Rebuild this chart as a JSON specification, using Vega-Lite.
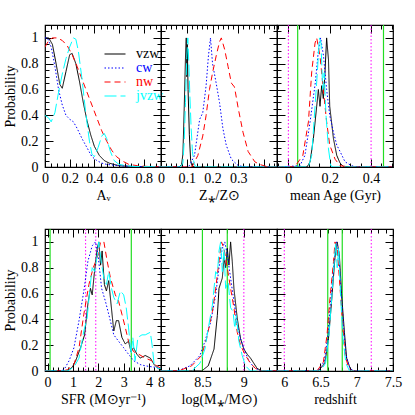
{
"$schema": "https://vega.github.io/schema/vega-lite/v6.json",
"background": "white",
"padding": {"left": 2, "top": 23, "right": 5, "bottom": 5},
"datasets": {
"vlines": [
{"p":3,"t":"g","x":0.045},{"p":3,"t":"g","x":0.46},{"p":3,"t":"m","x":0},{"p":3,"t":"m","x":0.4},
{"p":4,"t":"g","x":0.1},{"p":4,"t":"g","x":3.3},{"p":4,"t":"m","x":1.5},{"p":4,"t":"m","x":1.9},
{"p":5,"t":"g","x":8.5},{"p":5,"t":"g","x":8.8},{"p":5,"t":"m","x":9.0},
{"p":6,"t":"g","x":6.6},{"p":6,"t":"g","x":6.8},{"p":6,"t":"m","x":6.0},{"p":6,"t":"m","x":7.2}
],
"curves": [
{"p":1,"s":"vzw","x":0,"y":1},{"p":1,"s":"vzw","x":0.03,"y":1},{"p":1,"s":"vzw","x":0.06,"y":0.95},{"p":1,"s":"vzw","x":0.09,"y":0.8},{"p":1,"s":"vzw","x":0.12,"y":0.64},{"p":1,"s":"vzw","x":0.14,"y":0.61},{"p":1,"s":"vzw","x":0.17,"y":0.74},{"p":1,"s":"vzw","x":0.2,"y":0.87},{"p":1,"s":"vzw","x":0.22,"y":0.88},{"p":1,"s":"vzw","x":0.25,"y":0.8},{"p":1,"s":"vzw","x":0.28,"y":0.66},{"p":1,"s":"vzw","x":0.31,"y":0.5},{"p":1,"s":"vzw","x":0.34,"y":0.36},{"p":1,"s":"vzw","x":0.37,"y":0.25},{"p":1,"s":"vzw","x":0.4,"y":0.16},{"p":1,"s":"vzw","x":0.44,"y":0.09},{"p":1,"s":"vzw","x":0.48,"y":0.05},{"p":1,"s":"vzw","x":0.52,"y":0.03},{"p":1,"s":"vzw","x":0.6,"y":0.01},{"p":1,"s":"vzw","x":0.7,"y":0.004},{"p":1,"s":"vzw","x":0.94,"y":0},
{"p":1,"s":"cw","x":0,"y":1},{"p":1,"s":"cw","x":0.02,"y":1},{"p":1,"s":"cw","x":0.05,"y":0.93},{"p":1,"s":"cw","x":0.08,"y":0.78},{"p":1,"s":"cw","x":0.11,"y":0.6},{"p":1,"s":"cw","x":0.14,"y":0.48},{"p":1,"s":"cw","x":0.17,"y":0.4},{"p":1,"s":"cw","x":0.2,"y":0.37},{"p":1,"s":"cw","x":0.23,"y":0.35},{"p":1,"s":"cw","x":0.26,"y":0.3},{"p":1,"s":"cw","x":0.3,"y":0.22},{"p":1,"s":"cw","x":0.34,"y":0.15},{"p":1,"s":"cw","x":0.38,"y":0.08},{"p":1,"s":"cw","x":0.42,"y":0.05},{"p":1,"s":"cw","x":0.46,"y":0.03},{"p":1,"s":"cw","x":0.5,"y":0.02},{"p":1,"s":"cw","x":0.6,"y":0.01},{"p":1,"s":"cw","x":0.7,"y":0.005},{"p":1,"s":"cw","x":0.94,"y":0},
{"p":1,"s":"nw","x":0,"y":0.93},{"p":1,"s":"nw","x":0.03,"y":0.98},{"p":1,"s":"nw","x":0.06,"y":1},{"p":1,"s":"nw","x":0.1,"y":1},{"p":1,"s":"nw","x":0.14,"y":0.98},{"p":1,"s":"nw","x":0.18,"y":0.94},{"p":1,"s":"nw","x":0.22,"y":0.87},{"p":1,"s":"nw","x":0.26,"y":0.78},{"p":1,"s":"nw","x":0.3,"y":0.68},{"p":1,"s":"nw","x":0.34,"y":0.58},{"p":1,"s":"nw","x":0.38,"y":0.48},{"p":1,"s":"nw","x":0.42,"y":0.38},{"p":1,"s":"nw","x":0.46,"y":0.28},{"p":1,"s":"nw","x":0.5,"y":0.2},{"p":1,"s":"nw","x":0.54,"y":0.13},{"p":1,"s":"nw","x":0.58,"y":0.08},{"p":1,"s":"nw","x":0.62,"y":0.05},{"p":1,"s":"nw","x":0.68,"y":0.02},{"p":1,"s":"nw","x":0.75,"y":0.01},{"p":1,"s":"nw","x":0.85,"y":0.003},{"p":1,"s":"nw","x":0.94,"y":0},
{"p":1,"s":"jvzw","x":0,"y":0.4},{"p":1,"s":"jvzw","x":0.03,"y":0.38},{"p":1,"s":"jvzw","x":0.05,"y":0.35},{"p":1,"s":"jvzw","x":0.08,"y":0.42},{"p":1,"s":"jvzw","x":0.11,"y":0.58},{"p":1,"s":"jvzw","x":0.14,"y":0.72},{"p":1,"s":"jvzw","x":0.17,"y":0.84},{"p":1,"s":"jvzw","x":0.2,"y":0.93},{"p":1,"s":"jvzw","x":0.23,"y":1},{"p":1,"s":"jvzw","x":0.25,"y":0.99},{"p":1,"s":"jvzw","x":0.27,"y":0.9},{"p":1,"s":"jvzw","x":0.3,"y":0.68},{"p":1,"s":"jvzw","x":0.33,"y":0.42},{"p":1,"s":"jvzw","x":0.36,"y":0.2},{"p":1,"s":"jvzw","x":0.38,"y":0.1},{"p":1,"s":"jvzw","x":0.4,"y":0.08},{"p":1,"s":"jvzw","x":0.43,"y":0.15},{"p":1,"s":"jvzw","x":0.46,"y":0.24},{"p":1,"s":"jvzw","x":0.48,"y":0.26},{"p":1,"s":"jvzw","x":0.5,"y":0.22},{"p":1,"s":"jvzw","x":0.53,"y":0.12},{"p":1,"s":"jvzw","x":0.56,"y":0.05},{"p":1,"s":"jvzw","x":0.6,"y":0.02},{"p":1,"s":"jvzw","x":0.7,"y":0.005},{"p":1,"s":"jvzw","x":0.94,"y":0},
{"p":2,"s":"vzw","x":0,"y":0},{"p":2,"s":"vzw","x":0.07,"y":0},{"p":2,"s":"vzw","x":0.08,"y":0.02},{"p":2,"s":"vzw","x":0.085,"y":0.1},{"p":2,"s":"vzw","x":0.09,"y":0.45},{"p":2,"s":"vzw","x":0.095,"y":0.85},{"p":2,"s":"vzw","x":0.098,"y":1},{"p":2,"s":"vzw","x":0.1,"y":0.7},{"p":2,"s":"vzw","x":0.102,"y":0.95},{"p":2,"s":"vzw","x":0.105,"y":0.6},{"p":2,"s":"vzw","x":0.11,"y":0.25},{"p":2,"s":"vzw","x":0.115,"y":0.05},{"p":2,"s":"vzw","x":0.12,"y":0.01},{"p":2,"s":"vzw","x":0.13,"y":0},{"p":2,"s":"vzw","x":0.45,"y":0},
{"p":2,"s":"cw","x":0,"y":0},{"p":2,"s":"cw","x":0.1,"y":0},{"p":2,"s":"cw","x":0.11,"y":0.01},{"p":2,"s":"cw","x":0.13,"y":0.09},{"p":2,"s":"cw","x":0.15,"y":0.37},{"p":2,"s":"cw","x":0.162,"y":0.42},{"p":2,"s":"cw","x":0.175,"y":0.63},{"p":2,"s":"cw","x":0.184,"y":0.86},{"p":2,"s":"cw","x":0.192,"y":1},{"p":2,"s":"cw","x":0.2,"y":0.8},{"p":2,"s":"cw","x":0.214,"y":0.65},{"p":2,"s":"cw","x":0.227,"y":0.5},{"p":2,"s":"cw","x":0.24,"y":0.3},{"p":2,"s":"cw","x":0.253,"y":0.17},{"p":2,"s":"cw","x":0.273,"y":0.06},{"p":2,"s":"cw","x":0.3,"y":0.01},{"p":2,"s":"cw","x":0.33,"y":0},{"p":2,"s":"cw","x":0.45,"y":0},
{"p":2,"s":"nw","x":0,"y":0},{"p":2,"s":"nw","x":0.12,"y":0},{"p":2,"s":"nw","x":0.143,"y":0.09},{"p":2,"s":"nw","x":0.162,"y":0.24},{"p":2,"s":"nw","x":0.175,"y":0.4},{"p":2,"s":"nw","x":0.188,"y":0.6},{"p":2,"s":"nw","x":0.2,"y":0.73},{"p":2,"s":"nw","x":0.214,"y":0.86},{"p":2,"s":"nw","x":0.227,"y":0.97},{"p":2,"s":"nw","x":0.234,"y":1},{"p":2,"s":"nw","x":0.247,"y":0.91},{"p":2,"s":"nw","x":0.26,"y":0.78},{"p":2,"s":"nw","x":0.273,"y":0.65},{"p":2,"s":"nw","x":0.285,"y":0.62},{"p":2,"s":"nw","x":0.3,"y":0.45},{"p":2,"s":"nw","x":0.318,"y":0.27},{"p":2,"s":"nw","x":0.338,"y":0.12},{"p":2,"s":"nw","x":0.364,"y":0.04},{"p":2,"s":"nw","x":0.383,"y":0.02},{"p":2,"s":"nw","x":0.415,"y":0},{"p":2,"s":"nw","x":0.45,"y":0},
{"p":2,"s":"jvzw","x":0,"y":0},{"p":2,"s":"jvzw","x":0.075,"y":0},{"p":2,"s":"jvzw","x":0.085,"y":0.03},{"p":2,"s":"jvzw","x":0.09,"y":0.2},{"p":2,"s":"jvzw","x":0.095,"y":0.5},{"p":2,"s":"jvzw","x":0.1,"y":0.85},{"p":2,"s":"jvzw","x":0.104,"y":1},{"p":2,"s":"jvzw","x":0.108,"y":0.8},{"p":2,"s":"jvzw","x":0.112,"y":0.55},{"p":2,"s":"jvzw","x":0.117,"y":0.3},{"p":2,"s":"jvzw","x":0.122,"y":0.12},{"p":2,"s":"jvzw","x":0.128,"y":0.03},{"p":2,"s":"jvzw","x":0.135,"y":0},{"p":2,"s":"jvzw","x":0.45,"y":0},
{"p":3,"s":"vzw","x":-0.05,"y":0},{"p":3,"s":"vzw","x":0.09,"y":0},{"p":3,"s":"vzw","x":0.105,"y":0.04},{"p":3,"s":"vzw","x":0.121,"y":0.22},{"p":3,"s":"vzw","x":0.137,"y":0.47},{"p":3,"s":"vzw","x":0.145,"y":0.6},{"p":3,"s":"vzw","x":0.153,"y":0.47},{"p":3,"s":"vzw","x":0.161,"y":0.63},{"p":3,"s":"vzw","x":0.169,"y":0.53},{"p":3,"s":"vzw","x":0.177,"y":0.73},{"p":3,"s":"vzw","x":0.185,"y":1},{"p":3,"s":"vzw","x":0.194,"y":0.83},{"p":3,"s":"vzw","x":0.2,"y":0.47},{"p":3,"s":"vzw","x":0.218,"y":0.22},{"p":3,"s":"vzw","x":0.234,"y":0.09},{"p":3,"s":"vzw","x":0.25,"y":0.03},{"p":3,"s":"vzw","x":0.266,"y":0.005},{"p":3,"s":"vzw","x":0.3,"y":0},{"p":3,"s":"vzw","x":0.5,"y":0},
{"p":3,"s":"cw","x":-0.05,"y":0},{"p":3,"s":"cw","x":0.056,"y":0.01},{"p":3,"s":"cw","x":0.08,"y":0.09},{"p":3,"s":"cw","x":0.105,"y":0.35},{"p":3,"s":"cw","x":0.13,"y":0.65},{"p":3,"s":"cw","x":0.145,"y":0.9},{"p":3,"s":"cw","x":0.156,"y":1},{"p":3,"s":"cw","x":0.17,"y":0.86},{"p":3,"s":"cw","x":0.185,"y":0.6},{"p":3,"s":"cw","x":0.2,"y":0.4},{"p":3,"s":"cw","x":0.218,"y":0.27},{"p":3,"s":"cw","x":0.234,"y":0.17},{"p":3,"s":"cw","x":0.25,"y":0.12},{"p":3,"s":"cw","x":0.274,"y":0.04},{"p":3,"s":"cw","x":0.306,"y":0.01},{"p":3,"s":"cw","x":0.33,"y":0},{"p":3,"s":"cw","x":0.5,"y":0},
{"p":3,"s":"nw","x":-0.05,"y":0},{"p":3,"s":"nw","x":0.03,"y":0},{"p":3,"s":"nw","x":0.07,"y":0.09},{"p":3,"s":"nw","x":0.097,"y":0.35},{"p":3,"s":"nw","x":0.113,"y":0.74},{"p":3,"s":"nw","x":0.129,"y":0.96},{"p":3,"s":"nw","x":0.137,"y":1},{"p":3,"s":"nw","x":0.153,"y":0.86},{"p":3,"s":"nw","x":0.169,"y":0.6},{"p":3,"s":"nw","x":0.185,"y":0.35},{"p":3,"s":"nw","x":0.2,"y":0.17},{"p":3,"s":"nw","x":0.226,"y":0.06},{"p":3,"s":"nw","x":0.25,"y":0.01},{"p":3,"s":"nw","x":0.3,"y":0},{"p":3,"s":"nw","x":0.5,"y":0},
{"p":3,"s":"jvzw","x":-0.05,"y":0},{"p":3,"s":"jvzw","x":0.097,"y":0},{"p":3,"s":"jvzw","x":0.113,"y":0.09},{"p":3,"s":"jvzw","x":0.129,"y":0.47},{"p":3,"s":"jvzw","x":0.14,"y":0.73},{"p":3,"s":"jvzw","x":0.15,"y":1},{"p":3,"s":"jvzw","x":0.158,"y":0.96},{"p":3,"s":"jvzw","x":0.166,"y":0.6},{"p":3,"s":"jvzw","x":0.173,"y":0.73},{"p":3,"s":"jvzw","x":0.182,"y":0.4},{"p":3,"s":"jvzw","x":0.194,"y":0.14},{"p":3,"s":"jvzw","x":0.205,"y":0.01},{"p":3,"s":"jvzw","x":0.218,"y":0},{"p":3,"s":"jvzw","x":0.5,"y":0},
{"p":4,"s":"vzw","x":-0.1,"y":0},{"p":4,"s":"vzw","x":0.78,"y":0},{"p":4,"s":"vzw","x":0.98,"y":0.03},{"p":4,"s":"vzw","x":1.11,"y":0.08},{"p":4,"s":"vzw","x":1.3,"y":0.18},{"p":4,"s":"vzw","x":1.46,"y":0.28},{"p":4,"s":"vzw","x":1.59,"y":0.52},{"p":4,"s":"vzw","x":1.69,"y":0.64},{"p":4,"s":"vzw","x":1.76,"y":0.59},{"p":4,"s":"vzw","x":1.85,"y":0.77},{"p":4,"s":"vzw","x":1.96,"y":0.95},{"p":4,"s":"vzw","x":2.02,"y":1},{"p":4,"s":"vzw","x":2.09,"y":0.82},{"p":4,"s":"vzw","x":2.15,"y":0.93},{"p":4,"s":"vzw","x":2.24,"y":0.67},{"p":4,"s":"vzw","x":2.32,"y":0.62},{"p":4,"s":"vzw","x":2.41,"y":0.7},{"p":4,"s":"vzw","x":2.5,"y":0.52},{"p":4,"s":"vzw","x":2.61,"y":0.31},{"p":4,"s":"vzw","x":2.71,"y":0.39},{"p":4,"s":"vzw","x":2.8,"y":0.39},{"p":4,"s":"vzw","x":2.93,"y":0.26},{"p":4,"s":"vzw","x":3.06,"y":0.21},{"p":4,"s":"vzw","x":3.19,"y":0.23},{"p":4,"s":"vzw","x":3.29,"y":0.15},{"p":4,"s":"vzw","x":3.39,"y":0.18},{"p":4,"s":"vzw","x":3.52,"y":0.13},{"p":4,"s":"vzw","x":3.65,"y":0.1},{"p":4,"s":"vzw","x":3.85,"y":0.12},{"p":4,"s":"vzw","x":4.05,"y":0.1},{"p":4,"s":"vzw","x":4.2,"y":0.05},{"p":4,"s":"vzw","x":4.35,"y":0.02},{"p":4,"s":"vzw","x":4.47,"y":0.01},
{"p":4,"s":"cw","x":-0.1,"y":0},{"p":4,"s":"cw","x":0.5,"y":0},{"p":4,"s":"cw","x":0.65,"y":0.01},{"p":4,"s":"cw","x":0.85,"y":0.08},{"p":4,"s":"cw","x":1.04,"y":0.18},{"p":4,"s":"cw","x":1.24,"y":0.39},{"p":4,"s":"cw","x":1.43,"y":0.62},{"p":4,"s":"cw","x":1.59,"y":0.85},{"p":4,"s":"cw","x":1.76,"y":0.97},{"p":4,"s":"cw","x":1.89,"y":1},{"p":4,"s":"cw","x":1.99,"y":0.9},{"p":4,"s":"cw","x":2.13,"y":0.64},{"p":4,"s":"cw","x":2.28,"y":0.54},{"p":4,"s":"cw","x":2.41,"y":0.44},{"p":4,"s":"cw","x":2.61,"y":0.28},{"p":4,"s":"cw","x":2.8,"y":0.23},{"p":4,"s":"cw","x":3,"y":0.18},{"p":4,"s":"cw","x":3.19,"y":0.13},{"p":4,"s":"cw","x":3.39,"y":0.08},{"p":4,"s":"cw","x":3.65,"y":0.05},{"p":4,"s":"cw","x":3.85,"y":0.04},{"p":4,"s":"cw","x":4.2,"y":0.03},{"p":4,"s":"cw","x":4.47,"y":0.02},
{"p":4,"s":"nw","x":-0.1,"y":0},{"p":4,"s":"nw","x":0.6,"y":0},{"p":4,"s":"nw","x":0.78,"y":0.01},{"p":4,"s":"nw","x":1.04,"y":0.05},{"p":4,"s":"nw","x":1.24,"y":0.18},{"p":4,"s":"nw","x":1.43,"y":0.44},{"p":4,"s":"nw","x":1.63,"y":0.67},{"p":4,"s":"nw","x":1.8,"y":0.8},{"p":4,"s":"nw","x":1.96,"y":0.88},{"p":4,"s":"nw","x":2.09,"y":1},{"p":4,"s":"nw","x":2.22,"y":1},{"p":4,"s":"nw","x":2.35,"y":0.85},{"p":4,"s":"nw","x":2.48,"y":0.72},{"p":4,"s":"nw","x":2.67,"y":0.59},{"p":4,"s":"nw","x":2.8,"y":0.54},{"p":4,"s":"nw","x":2.93,"y":0.44},{"p":4,"s":"nw","x":3.06,"y":0.34},{"p":4,"s":"nw","x":3.19,"y":0.23},{"p":4,"s":"nw","x":3.39,"y":0.15},{"p":4,"s":"nw","x":3.59,"y":0.13},{"p":4,"s":"nw","x":3.85,"y":0.1},{"p":4,"s":"nw","x":4.1,"y":0.08},{"p":4,"s":"nw","x":4.3,"y":0.04},{"p":4,"s":"nw","x":4.47,"y":0.02},
{"p":4,"s":"jvzw","x":-0.1,"y":0},{"p":4,"s":"jvzw","x":0.78,"y":0},{"p":4,"s":"jvzw","x":1.04,"y":0.03},{"p":4,"s":"jvzw","x":1.24,"y":0.1},{"p":4,"s":"jvzw","x":1.43,"y":0.31},{"p":4,"s":"jvzw","x":1.56,"y":0.41},{"p":4,"s":"jvzw","x":1.67,"y":0.64},{"p":4,"s":"jvzw","x":1.76,"y":0.8},{"p":4,"s":"jvzw","x":1.86,"y":0.77},{"p":4,"s":"jvzw","x":1.96,"y":0.9},{"p":4,"s":"jvzw","x":2.02,"y":1},{"p":4,"s":"jvzw","x":2.11,"y":0.85},{"p":4,"s":"jvzw","x":2.22,"y":0.72},{"p":4,"s":"jvzw","x":2.32,"y":0.67},{"p":4,"s":"jvzw","x":2.41,"y":0.77},{"p":4,"s":"jvzw","x":2.52,"y":0.64},{"p":4,"s":"jvzw","x":2.61,"y":0.57},{"p":4,"s":"jvzw","x":2.74,"y":0.52},{"p":4,"s":"jvzw","x":2.87,"y":0.62},{"p":4,"s":"jvzw","x":3,"y":0.59},{"p":4,"s":"jvzw","x":3.1,"y":0.49},{"p":4,"s":"jvzw","x":3.19,"y":0.34},{"p":4,"s":"jvzw","x":3.29,"y":0.13},{"p":4,"s":"jvzw","x":3.36,"y":0.26},{"p":4,"s":"jvzw","x":3.45,"y":0.08},{"p":4,"s":"jvzw","x":3.56,"y":0.26},{"p":4,"s":"jvzw","x":3.72,"y":0.28},{"p":4,"s":"jvzw","x":3.85,"y":0.28},{"p":4,"s":"jvzw","x":4.05,"y":0.3},{"p":4,"s":"jvzw","x":4.12,"y":0.2},{"p":4,"s":"jvzw","x":4.2,"y":0.05},{"p":4,"s":"jvzw","x":4.35,"y":0.02},{"p":4,"s":"jvzw","x":4.47,"y":0.02},
{"p":5,"s":"vzw","x":8,"y":0},{"p":5,"s":"vzw","x":8.49,"y":0},{"p":5,"s":"vzw","x":8.57,"y":0.04},{"p":5,"s":"vzw","x":8.64,"y":0.17},{"p":5,"s":"vzw","x":8.68,"y":0.43},{"p":5,"s":"vzw","x":8.7,"y":0.64},{"p":5,"s":"vzw","x":8.74,"y":0.72},{"p":5,"s":"vzw","x":8.76,"y":0.88},{"p":5,"s":"vzw","x":8.78,"y":0.8},{"p":5,"s":"vzw","x":8.8,"y":0.95},{"p":5,"s":"vzw","x":8.82,"y":0.82},{"p":5,"s":"vzw","x":8.84,"y":1},{"p":5,"s":"vzw","x":8.86,"y":0.85},{"p":5,"s":"vzw","x":8.88,"y":0.64},{"p":5,"s":"vzw","x":8.92,"y":0.41},{"p":5,"s":"vzw","x":8.96,"y":0.25},{"p":5,"s":"vzw","x":9,"y":0.17},{"p":5,"s":"vzw","x":9.04,"y":0.13},{"p":5,"s":"vzw","x":9.08,"y":0.1},{"p":5,"s":"vzw","x":9.12,"y":0.06},{"p":5,"s":"vzw","x":9.16,"y":0.02},{"p":5,"s":"vzw","x":9.22,"y":0},{"p":5,"s":"vzw","x":9.4,"y":0},
{"p":5,"s":"cw","x":8,"y":0},{"p":5,"s":"cw","x":8.2,"y":0},{"p":5,"s":"cw","x":8.35,"y":0.04},{"p":5,"s":"cw","x":8.47,"y":0.12},{"p":5,"s":"cw","x":8.53,"y":0.23},{"p":5,"s":"cw","x":8.6,"y":0.38},{"p":5,"s":"cw","x":8.66,"y":0.59},{"p":5,"s":"cw","x":8.7,"y":0.8},{"p":5,"s":"cw","x":8.74,"y":0.95},{"p":5,"s":"cw","x":8.77,"y":1},{"p":5,"s":"cw","x":8.8,"y":0.9},{"p":5,"s":"cw","x":8.84,"y":0.72},{"p":5,"s":"cw","x":8.88,"y":0.54},{"p":5,"s":"cw","x":8.92,"y":0.36},{"p":5,"s":"cw","x":8.96,"y":0.25},{"p":5,"s":"cw","x":9,"y":0.17},{"p":5,"s":"cw","x":9.06,"y":0.08},{"p":5,"s":"cw","x":9.12,"y":0.03},{"p":5,"s":"cw","x":9.2,"y":0},{"p":5,"s":"cw","x":9.4,"y":0},
{"p":5,"s":"nw","x":8,"y":0},{"p":5,"s":"nw","x":8.21,"y":0},{"p":5,"s":"nw","x":8.37,"y":0.04},{"p":5,"s":"nw","x":8.49,"y":0.12},{"p":5,"s":"nw","x":8.55,"y":0.25},{"p":5,"s":"nw","x":8.62,"y":0.46},{"p":5,"s":"nw","x":8.66,"y":0.64},{"p":5,"s":"nw","x":8.7,"y":0.85},{"p":5,"s":"nw","x":8.73,"y":1},{"p":5,"s":"nw","x":8.76,"y":0.95},{"p":5,"s":"nw","x":8.8,"y":0.8},{"p":5,"s":"nw","x":8.84,"y":0.64},{"p":5,"s":"nw","x":8.88,"y":0.49},{"p":5,"s":"nw","x":8.92,"y":0.3},{"p":5,"s":"nw","x":8.96,"y":0.2},{"p":5,"s":"nw","x":9.02,"y":0.12},{"p":5,"s":"nw","x":9.08,"y":0.06},{"p":5,"s":"nw","x":9.14,"y":0.02},{"p":5,"s":"nw","x":9.22,"y":0},{"p":5,"s":"nw","x":9.4,"y":0},
{"p":5,"s":"jvzw","x":8,"y":0},{"p":5,"s":"jvzw","x":8.37,"y":0},{"p":5,"s":"jvzw","x":8.47,"y":0.06},{"p":5,"s":"jvzw","x":8.53,"y":0.17},{"p":5,"s":"jvzw","x":8.57,"y":0.33},{"p":5,"s":"jvzw","x":8.62,"y":0.51},{"p":5,"s":"jvzw","x":8.66,"y":0.77},{"p":5,"s":"jvzw","x":8.68,"y":0.75},{"p":5,"s":"jvzw","x":8.7,"y":0.93},{"p":5,"s":"jvzw","x":8.72,"y":1},{"p":5,"s":"jvzw","x":8.74,"y":0.77},{"p":5,"s":"jvzw","x":8.76,"y":0.95},{"p":5,"s":"jvzw","x":8.78,"y":0.64},{"p":5,"s":"jvzw","x":8.81,"y":0.69},{"p":5,"s":"jvzw","x":8.84,"y":0.49},{"p":5,"s":"jvzw","x":8.87,"y":0.46},{"p":5,"s":"jvzw","x":8.89,"y":0.33},{"p":5,"s":"jvzw","x":8.91,"y":0.43},{"p":5,"s":"jvzw","x":8.94,"y":0.23},{"p":5,"s":"jvzw","x":8.98,"y":0.12},{"p":5,"s":"jvzw","x":9.02,"y":0.04},{"p":5,"s":"jvzw","x":9.08,"y":0},{"p":5,"s":"jvzw","x":9.4,"y":0},
{"p":6,"s":"vzw","x":5.9,"y":0},{"p":6,"s":"vzw","x":6.47,"y":0},{"p":6,"s":"vzw","x":6.56,"y":0.06},{"p":6,"s":"vzw","x":6.61,"y":0.25},{"p":6,"s":"vzw","x":6.65,"y":0.52},{"p":6,"s":"vzw","x":6.7,"y":0.88},{"p":6,"s":"vzw","x":6.73,"y":1},{"p":6,"s":"vzw","x":6.76,"y":0.9},{"p":6,"s":"vzw","x":6.79,"y":0.6},{"p":6,"s":"vzw","x":6.83,"y":0.3},{"p":6,"s":"vzw","x":6.86,"y":0.1},{"p":6,"s":"vzw","x":6.91,"y":0.02},{"p":6,"s":"vzw","x":6.95,"y":0},{"p":6,"s":"vzw","x":7.5,"y":0},
{"p":6,"s":"cw","x":5.9,"y":0},{"p":6,"s":"cw","x":6.46,"y":0},{"p":6,"s":"cw","x":6.55,"y":0.07},{"p":6,"s":"cw","x":6.6,"y":0.27},{"p":6,"s":"cw","x":6.64,"y":0.55},{"p":6,"s":"cw","x":6.69,"y":0.87},{"p":6,"s":"cw","x":6.72,"y":1},{"p":6,"s":"cw","x":6.75,"y":0.93},{"p":6,"s":"cw","x":6.78,"y":0.65},{"p":6,"s":"cw","x":6.82,"y":0.33},{"p":6,"s":"cw","x":6.85,"y":0.13},{"p":6,"s":"cw","x":6.9,"y":0.03},{"p":6,"s":"cw","x":6.95,"y":0},{"p":6,"s":"cw","x":7.5,"y":0},
{"p":6,"s":"nw","x":5.9,"y":0},{"p":6,"s":"nw","x":6.45,"y":0},{"p":6,"s":"nw","x":6.54,"y":0.07},{"p":6,"s":"nw","x":6.59,"y":0.28},{"p":6,"s":"nw","x":6.63,"y":0.56},{"p":6,"s":"nw","x":6.68,"y":0.85},{"p":6,"s":"nw","x":6.7,"y":1},{"p":6,"s":"nw","x":6.73,"y":0.95},{"p":6,"s":"nw","x":6.77,"y":0.64},{"p":6,"s":"nw","x":6.81,"y":0.33},{"p":6,"s":"nw","x":6.84,"y":0.12},{"p":6,"s":"nw","x":6.89,"y":0.02},{"p":6,"s":"nw","x":6.93,"y":0},{"p":6,"s":"nw","x":7.5,"y":0},
{"p":6,"s":"jvzw","x":5.9,"y":0},{"p":6,"s":"jvzw","x":6.5,"y":0},{"p":6,"s":"jvzw","x":6.57,"y":0.06},{"p":6,"s":"jvzw","x":6.62,"y":0.3},{"p":6,"s":"jvzw","x":6.66,"y":0.6},{"p":6,"s":"jvzw","x":6.69,"y":0.85},{"p":6,"s":"jvzw","x":6.71,"y":1},{"p":6,"s":"jvzw","x":6.73,"y":0.8},{"p":6,"s":"jvzw","x":6.75,"y":0.95},{"p":6,"s":"jvzw","x":6.78,"y":0.55},{"p":6,"s":"jvzw","x":6.81,"y":0.25},{"p":6,"s":"jvzw","x":6.85,"y":0.06},{"p":6,"s":"jvzw","x":6.9,"y":0},{"p":6,"s":"jvzw","x":7.5,"y":0}
]
},
"columns": 3,
"spacing": {"row": 62, "column": 0},
"bounds": "flush",
"resolve": {"scale": {"x": "independent", "y": "independent"}, "legend": {"color": "independent", "strokeDash": "independent"}},
"concat": [
{
"width": 116, "height": 142,
"resolve": {"axis": {"x": "independent", "y": "independent"}},
"layer": [
{"data": {"name": "curves"}, "transform": [{"filter": "datum.p == 1"}], "mark": {"type": "line", "strokeWidth": 1, "clip": true},
"encoding": {
"x": {"field": "x", "type": "quantitative", "scale": {"domain": [0, 0.94], "nice": false, "zero": false}, "axis": {"orient": "bottom", "values": [0, 0.2, 0.4, 0.6, 0.8], "tickSize": -8, "labelPadding": 12, "format": "~g", "title": "Aᵥ"}},
"y": {"field": "y", "type": "quantitative", "scale": {"domain": [0, 1.1], "nice": false, "zero": false}, "axis": {"orient": "left", "values": [0, 0.2, 0.4, 0.6, 0.8, 1], "tickSize": -8, "labelPadding": 15, "format": "~g", "title": "Probability"}},
"color": {"field": "s", "type": "nominal", "scale": {"domain": ["vzw", "cw", "nw", "jvzw"], "range": ["black", "blue", "red", "cyan"]}, "legend": {"orient": "none", "legendX": 63, "legendY": 22, "title": null, "padding": 0, "symbolType": "M-3,0H3", "symbolSize": 49, "symbolStrokeWidth": 1.2, "labelFont": "Liberation Serif", "labelFontSize": 14, "labelOffset": 14, "rowPadding": -1, "encode": {"labels": {"update": {"fill": {"signal": "datum.label == 'vzw' ? 'black' : datum.label == 'cw' ? 'blue' : datum.label == 'nw' ? 'red' : 'cyan'"}}}}}},
"strokeDash": {"field": "s", "type": "nominal", "scale": {"domain": ["vzw", "cw", "nw", "jvzw"], "range": [[1, 0], [1.5, 2], [6, 4], [12, 4]]}, "legend": {"orient": "none", "legendX": 63, "legendY": 22, "title": null, "padding": 0, "symbolType": "M-3,0H3", "symbolSize": 49, "symbolStrokeWidth": 1.2, "labelFont": "Liberation Serif", "labelFontSize": 14, "labelOffset": 14, "rowPadding": -1, "encode": {"labels": {"update": {"fill": {"signal": "datum.label == 'vzw' ? 'black' : datum.label == 'cw' ? 'blue' : datum.label == 'nw' ? 'red' : 'cyan'"}}}}}}
}},
{"data": {"name": "curves"}, "transform": [{"filter": "datum.p == 1"}], "mark": {"type": "point", "opacity": 0},
"encoding": {"x": {"field": "x", "type": "quantitative", "scale": {"domain": [0, 0.94], "nice": false, "zero": false}, "axis": {"orient": "bottom", "values": [0.05,0.1,0.15,0.25,0.3,0.35,0.45,0.5,0.55,0.65,0.7,0.75,0.85,0.9], "tickSize": -4, "labels": false, "title": null}},
"y": {"field": "y", "type": "quantitative", "scale": {"domain": [0, 1.1], "nice": false, "zero": false}, "axis": {"orient": "left", "values": [0.05,0.1,0.15,0.25,0.3,0.35,0.45,0.5,0.55,0.65,0.7,0.75,0.85,0.9,0.95,1.05], "tickSize": -4, "labels": false, "title": null}}}},
{"data": {"name": "curves"}, "transform": [{"filter": "datum.p == 1"}], "mark": {"type": "point", "opacity": 0},
"encoding": {"x": {"field": "x", "type": "quantitative", "scale": {"domain": [0, 0.94], "nice": false, "zero": false}, "axis": {"orient": "top", "values": [0, 0.2, 0.4, 0.6, 0.8], "tickSize": -8, "labels": false, "title": null}},
"y": {"field": "y", "type": "quantitative", "scale": {"domain": [0, 1.1], "nice": false, "zero": false}, "axis": {"orient": "right", "values": [0, 0.2, 0.4, 0.6, 0.8, 1], "tickSize": -8, "labels": false, "title": null}}}},
{"data": {"name": "curves"}, "transform": [{"filter": "datum.p == 1"}], "mark": {"type": "point", "opacity": 0},
"encoding": {"x": {"field": "x", "type": "quantitative", "scale": {"domain": [0, 0.94], "nice": false, "zero": false}, "axis": {"orient": "top", "values": [0.05,0.1,0.15,0.25,0.3,0.35,0.45,0.5,0.55,0.65,0.7,0.75,0.85,0.9], "tickSize": -4, "labels": false, "title": null}},
"y": {"field": "y", "type": "quantitative", "scale": {"domain": [0, 1.1], "nice": false, "zero": false}, "axis": {"orient": "right", "values": [0.05,0.1,0.15,0.25,0.3,0.35,0.45,0.5,0.55,0.65,0.7,0.75,0.85,0.9,0.95,1.05], "tickSize": -4, "labels": false, "title": null}}}}
]
},
{
"width": 116, "height": 142,
"resolve": {"axis": {"x": "independent", "y": "independent"}},
"layer": [
{"data": {"name": "curves"}, "transform": [{"filter": "datum.p == 2"}], "mark": {"type": "line", "strokeWidth": 1, "clip": true},
"encoding": {
"x": {"field": "x", "type": "quantitative", "scale": {"domain": [0, 0.45], "nice": false, "zero": false}, "axis": {"orient": "bottom", "values": [0, 0.1, 0.2, 0.3, 0.4], "tickSize": -8, "labelPadding": 12, "format": "~g", "labelExpr": "datum.value > 0.35 ? '' : datum.label", "title": "Z⁎/Z⊙"}},
"y": {"field": "y", "type": "quantitative", "scale": {"domain": [0, 1.1], "nice": false, "zero": false}, "axis": {"orient": "left", "values": [0, 0.2, 0.4, 0.6, 0.8, 1], "tickSize": -8, "labels": false, "title": null}},
"color": {"field": "s", "type": "nominal", "scale": {"domain": ["vzw", "cw", "nw", "jvzw"], "range": ["black", "blue", "red", "cyan"]}, "legend": null},
"strokeDash": {"field": "s", "type": "nominal", "scale": {"domain": ["vzw", "cw", "nw", "jvzw"], "range": [[1, 0], [1.5, 2], [6, 4], [12, 4]]}, "legend": null}
}},
{"data": {"name": "curves"}, "transform": [{"filter": "datum.p == 2"}], "mark": {"type": "point", "opacity": 0},
"encoding": {"x": {"field": "x", "type": "quantitative", "scale": {"domain": [0, 0.45], "nice": false, "zero": false}, "axis": {"orient": "bottom", "values": [0.02,0.04,0.06,0.08,0.12,0.14,0.16,0.18,0.22,0.24,0.26,0.28,0.32,0.34,0.36,0.38,0.42,0.44], "tickSize": -4, "labels": false, "title": null}},
"y": {"field": "y", "type": "quantitative", "scale": {"domain": [0, 1.1], "nice": false, "zero": false}, "axis": {"orient": "left", "values": [0.05,0.1,0.15,0.25,0.3,0.35,0.45,0.5,0.55,0.65,0.7,0.75,0.85,0.9,0.95,1.05], "tickSize": -4, "labels": false, "title": null}}}},
{"data": {"name": "curves"}, "transform": [{"filter": "datum.p == 2"}], "mark": {"type": "point", "opacity": 0},
"encoding": {"x": {"field": "x", "type": "quantitative", "scale": {"domain": [0, 0.45], "nice": false, "zero": false}, "axis": {"orient": "top", "values": [0, 0.1, 0.2, 0.3, 0.4], "tickSize": -8, "labels": false, "title": null}},
"y": {"field": "y", "type": "quantitative", "scale": {"domain": [0, 1.1], "nice": false, "zero": false}, "axis": {"orient": "right", "values": [0, 0.2, 0.4, 0.6, 0.8, 1], "tickSize": -8, "labels": false, "title": null}}}},
{"data": {"name": "curves"}, "transform": [{"filter": "datum.p == 2"}], "mark": {"type": "point", "opacity": 0},
"encoding": {"x": {"field": "x", "type": "quantitative", "scale": {"domain": [0, 0.45], "nice": false, "zero": false}, "axis": {"orient": "top", "values": [0.02,0.04,0.06,0.08,0.12,0.14,0.16,0.18,0.22,0.24,0.26,0.28,0.32,0.34,0.36,0.38,0.42,0.44], "tickSize": -4, "labels": false, "title": null}},
"y": {"field": "y", "type": "quantitative", "scale": {"domain": [0, 1.1], "nice": false, "zero": false}, "axis": {"orient": "right", "values": [0.05,0.1,0.15,0.25,0.3,0.35,0.45,0.5,0.55,0.65,0.7,0.75,0.85,0.9,0.95,1.05], "tickSize": -4, "labels": false, "title": null}}}}
]
},
{
"width": 116, "height": 142,
"resolve": {"axis": {"x": "independent", "y": "independent"}},
"layer": [
{"data": {"name": "vlines"}, "transform": [{"filter": "datum.p == 3 && datum.t == 'm'"}], "mark": {"type": "rule", "color": "#ff00ff", "strokeWidth": 1, "strokeDash": [1.5, 2]}, "encoding": {"x": {"field": "x", "type": "quantitative", "scale": {"domain": [-0.055, 0.506], "nice": false, "zero": false}, "axis": null}}},
{"data": {"name": "vlines"}, "transform": [{"filter": "datum.p == 3 && datum.t == 'g'"}], "mark": {"type": "rule", "color": "#22dd22", "strokeWidth": 1.2}, "encoding": {"x": {"field": "x", "type": "quantitative", "scale": {"domain": [-0.055, 0.506], "nice": false, "zero": false}, "axis": null}}},
{"data": {"name": "curves"}, "transform": [{"filter": "datum.p == 3"}], "mark": {"type": "line", "strokeWidth": 1, "clip": true},
"encoding": {
"x": {"field": "x", "type": "quantitative", "scale": {"domain": [-0.055, 0.506], "nice": false, "zero": false}, "axis": {"orient": "bottom", "values": [0, 0.2, 0.4], "tickSize": -8, "labelPadding": 12, "format": "~g", "title": "mean Age (Gyr)"}},
"y": {"field": "y", "type": "quantitative", "scale": {"domain": [0, 1.1], "nice": false, "zero": false}, "axis": {"orient": "left", "values": [0, 0.2, 0.4, 0.6, 0.8, 1], "tickSize": -8, "labels": false, "title": null}},
"color": {"field": "s", "type": "nominal", "scale": {"domain": ["vzw", "cw", "nw", "jvzw"], "range": ["black", "blue", "red", "cyan"]}, "legend": null},
"strokeDash": {"field": "s", "type": "nominal", "scale": {"domain": ["vzw", "cw", "nw", "jvzw"], "range": [[1, 0], [1.5, 2], [6, 4], [12, 4]]}, "legend": null}
}},
{"data": {"name": "curves"}, "transform": [{"filter": "datum.p == 3"}], "mark": {"type": "point", "opacity": 0},
"encoding": {"x": {"field": "x", "type": "quantitative", "scale": {"domain": [-0.055, 0.506], "nice": false, "zero": false}, "axis": {"orient": "bottom", "values": [-0.05,0.05,0.1,0.15,0.25,0.3,0.35,0.45,0.5], "tickSize": -4, "labels": false, "title": null}},
"y": {"field": "y", "type": "quantitative", "scale": {"domain": [0, 1.1], "nice": false, "zero": false}, "axis": {"orient": "left", "values": [0.05,0.1,0.15,0.25,0.3,0.35,0.45,0.5,0.55,0.65,0.7,0.75,0.85,0.9,0.95,1.05], "tickSize": -4, "labels": false, "title": null}}}},
{"data": {"name": "curves"}, "transform": [{"filter": "datum.p == 3"}], "mark": {"type": "point", "opacity": 0},
"encoding": {"x": {"field": "x", "type": "quantitative", "scale": {"domain": [-0.055, 0.506], "nice": false, "zero": false}, "axis": {"orient": "top", "values": [0, 0.2, 0.4], "tickSize": -8, "labels": false, "title": null}},
"y": {"field": "y", "type": "quantitative", "scale": {"domain": [0, 1.1], "nice": false, "zero": false}, "axis": {"orient": "right", "values": [0, 0.2, 0.4, 0.6, 0.8, 1], "tickSize": -8, "labels": false, "title": null}}}},
{"data": {"name": "curves"}, "transform": [{"filter": "datum.p == 3"}], "mark": {"type": "point", "opacity": 0},
"encoding": {"x": {"field": "x", "type": "quantitative", "scale": {"domain": [-0.055, 0.506], "nice": false, "zero": false}, "axis": {"orient": "top", "values": [-0.05,0.05,0.1,0.15,0.25,0.3,0.35,0.45,0.5], "tickSize": -4, "labels": false, "title": null}},
"y": {"field": "y", "type": "quantitative", "scale": {"domain": [0, 1.1], "nice": false, "zero": false}, "axis": {"orient": "right", "values": [0.05,0.1,0.15,0.25,0.3,0.35,0.45,0.5,0.55,0.65,0.7,0.75,0.85,0.9,0.95,1.05], "tickSize": -4, "labels": false, "title": null}}}}
]
},
{
"width": 116, "height": 142,
"resolve": {"axis": {"x": "independent", "y": "independent"}},
"layer": [
{"data": {"name": "vlines"}, "transform": [{"filter": "datum.p == 4 && datum.t == 'm'"}], "mark": {"type": "rule", "color": "#ff00ff", "strokeWidth": 1, "strokeDash": [1.5, 2]}, "encoding": {"x": {"field": "x", "type": "quantitative", "scale": {"domain": [-0.1, 4.47], "nice": false, "zero": false}, "axis": null}}},
{"data": {"name": "vlines"}, "transform": [{"filter": "datum.p == 4 && datum.t == 'g'"}], "mark": {"type": "rule", "color": "#22dd22", "strokeWidth": 1.2}, "encoding": {"x": {"field": "x", "type": "quantitative", "scale": {"domain": [-0.1, 4.47], "nice": false, "zero": false}, "axis": null}}},
{"data": {"name": "curves"}, "transform": [{"filter": "datum.p == 4"}], "mark": {"type": "line", "strokeWidth": 1, "clip": true},
"encoding": {
"x": {"field": "x", "type": "quantitative", "scale": {"domain": [-0.1, 4.47], "nice": false, "zero": false}, "axis": {"orient": "bottom", "values": [0, 1, 2, 3, 4], "tickSize": -8, "labelPadding": 12, "format": "~g", "title": "SFR  (M⊙yr⁻¹)"}},
"y": {"field": "y", "type": "quantitative", "scale": {"domain": [0, 1.1], "nice": false, "zero": false}, "axis": {"orient": "left", "values": [0, 0.2, 0.4, 0.6, 0.8, 1], "tickSize": -8, "labelPadding": 15, "format": "~g", "title": "Probability"}},
"color": {"field": "s", "type": "nominal", "scale": {"domain": ["vzw", "cw", "nw", "jvzw"], "range": ["black", "blue", "red", "cyan"]}, "legend": null},
"strokeDash": {"field": "s", "type": "nominal", "scale": {"domain": ["vzw", "cw", "nw", "jvzw"], "range": [[1, 0], [1.5, 2], [6, 4], [12, 4]]}, "legend": null}
}},
{"data": {"name": "curves"}, "transform": [{"filter": "datum.p == 4"}], "mark": {"type": "point", "opacity": 0},
"encoding": {"x": {"field": "x", "type": "quantitative", "scale": {"domain": [-0.1, 4.47], "nice": false, "zero": false}, "axis": {"orient": "bottom", "values": [0.2,0.4,0.6,0.8,1.2,1.4,1.6,1.8,2.2,2.4,2.6,2.8,3.2,3.4,3.6,3.8,4.2,4.4], "tickSize": -4, "labels": false, "title": null}},
"y": {"field": "y", "type": "quantitative", "scale": {"domain": [0, 1.1], "nice": false, "zero": false}, "axis": {"orient": "left", "values": [0.05,0.1,0.15,0.25,0.3,0.35,0.45,0.5,0.55,0.65,0.7,0.75,0.85,0.9,0.95,1.05], "tickSize": -4, "labels": false, "title": null}}}},
{"data": {"name": "curves"}, "transform": [{"filter": "datum.p == 4"}], "mark": {"type": "point", "opacity": 0},
"encoding": {"x": {"field": "x", "type": "quantitative", "scale": {"domain": [-0.1, 4.47], "nice": false, "zero": false}, "axis": {"orient": "top", "values": [0, 1, 2, 3, 4], "tickSize": -8, "labels": false, "title": null}},
"y": {"field": "y", "type": "quantitative", "scale": {"domain": [0, 1.1], "nice": false, "zero": false}, "axis": {"orient": "right", "values": [0, 0.2, 0.4, 0.6, 0.8, 1], "tickSize": -8, "labels": false, "title": null}}}},
{"data": {"name": "curves"}, "transform": [{"filter": "datum.p == 4"}], "mark": {"type": "point", "opacity": 0},
"encoding": {"x": {"field": "x", "type": "quantitative", "scale": {"domain": [-0.1, 4.47], "nice": false, "zero": false}, "axis": {"orient": "top", "values": [0.2,0.4,0.6,0.8,1.2,1.4,1.6,1.8,2.2,2.4,2.6,2.8,3.2,3.4,3.6,3.8,4.2,4.4], "tickSize": -4, "labels": false, "title": null}},
"y": {"field": "y", "type": "quantitative", "scale": {"domain": [0, 1.1], "nice": false, "zero": false}, "axis": {"orient": "right", "values": [0.05,0.1,0.15,0.25,0.3,0.35,0.45,0.5,0.55,0.65,0.7,0.75,0.85,0.9,0.95,1.05], "tickSize": -4, "labels": false, "title": null}}}}
]
},
{
"width": 116, "height": 142,
"resolve": {"axis": {"x": "independent", "y": "independent"}},
"layer": [
{"data": {"name": "vlines"}, "transform": [{"filter": "datum.p == 5 && datum.t == 'm'"}], "mark": {"type": "rule", "color": "#ff00ff", "strokeWidth": 1, "strokeDash": [1.5, 2]}, "encoding": {"x": {"field": "x", "type": "quantitative", "scale": {"domain": [8, 9.4], "nice": false, "zero": false}, "axis": null}}},
{"data": {"name": "vlines"}, "transform": [{"filter": "datum.p == 5 && datum.t == 'g'"}], "mark": {"type": "rule", "color": "#22dd22", "strokeWidth": 1.2}, "encoding": {"x": {"field": "x", "type": "quantitative", "scale": {"domain": [8, 9.4], "nice": false, "zero": false}, "axis": null}}},
{"data": {"name": "curves"}, "transform": [{"filter": "datum.p == 5"}], "mark": {"type": "line", "strokeWidth": 1, "clip": true},
"encoding": {
"x": {"field": "x", "type": "quantitative", "scale": {"domain": [8, 9.4], "nice": false, "zero": false}, "axis": {"orient": "bottom", "values": [8, 8.5, 9], "tickSize": -8, "labelPadding": 12, "format": "~g", "title": "log(M⁎/M⊙)"}},
"y": {"field": "y", "type": "quantitative", "scale": {"domain": [0, 1.1], "nice": false, "zero": false}, "axis": {"orient": "left", "values": [0, 0.2, 0.4, 0.6, 0.8, 1], "tickSize": -8, "labels": false, "title": null}},
"color": {"field": "s", "type": "nominal", "scale": {"domain": ["vzw", "cw", "nw", "jvzw"], "range": ["black", "blue", "red", "cyan"]}, "legend": null},
"strokeDash": {"field": "s", "type": "nominal", "scale": {"domain": ["vzw", "cw", "nw", "jvzw"], "range": [[1, 0], [1.5, 2], [6, 4], [12, 4]]}, "legend": null}
}},
{"data": {"name": "curves"}, "transform": [{"filter": "datum.p == 5"}], "mark": {"type": "point", "opacity": 0},
"encoding": {"x": {"field": "x", "type": "quantitative", "scale": {"domain": [8, 9.4], "nice": false, "zero": false}, "axis": {"orient": "bottom", "values": [8.1,8.2,8.3,8.4,8.6,8.7,8.8,8.9,9.1,9.2,9.3], "tickSize": -4, "labels": false, "title": null}},
"y": {"field": "y", "type": "quantitative", "scale": {"domain": [0, 1.1], "nice": false, "zero": false}, "axis": {"orient": "left", "values": [0.05,0.1,0.15,0.25,0.3,0.35,0.45,0.5,0.55,0.65,0.7,0.75,0.85,0.9,0.95,1.05], "tickSize": -4, "labels": false, "title": null}}}},
{"data": {"name": "curves"}, "transform": [{"filter": "datum.p == 5"}], "mark": {"type": "point", "opacity": 0},
"encoding": {"x": {"field": "x", "type": "quantitative", "scale": {"domain": [8, 9.4], "nice": false, "zero": false}, "axis": {"orient": "top", "values": [8, 8.5, 9], "tickSize": -8, "labels": false, "title": null}},
"y": {"field": "y", "type": "quantitative", "scale": {"domain": [0, 1.1], "nice": false, "zero": false}, "axis": {"orient": "right", "values": [0, 0.2, 0.4, 0.6, 0.8, 1], "tickSize": -8, "labels": false, "title": null}}}},
{"data": {"name": "curves"}, "transform": [{"filter": "datum.p == 5"}], "mark": {"type": "point", "opacity": 0},
"encoding": {"x": {"field": "x", "type": "quantitative", "scale": {"domain": [8, 9.4], "nice": false, "zero": false}, "axis": {"orient": "top", "values": [8.1,8.2,8.3,8.4,8.6,8.7,8.8,8.9,9.1,9.2,9.3], "tickSize": -4, "labels": false, "title": null}},
"y": {"field": "y", "type": "quantitative", "scale": {"domain": [0, 1.1], "nice": false, "zero": false}, "axis": {"orient": "right", "values": [0.05,0.1,0.15,0.25,0.3,0.35,0.45,0.5,0.55,0.65,0.7,0.75,0.85,0.9,0.95,1.05], "tickSize": -4, "labels": false, "title": null}}}}
]
},
{
"width": 116, "height": 142,
"resolve": {"axis": {"x": "independent", "y": "independent"}},
"layer": [
{"data": {"name": "vlines"}, "transform": [{"filter": "datum.p == 6 && datum.t == 'm'"}], "mark": {"type": "rule", "color": "#ff00ff", "strokeWidth": 1, "strokeDash": [1.5, 2]}, "encoding": {"x": {"field": "x", "type": "quantitative", "scale": {"domain": [5.9, 7.5], "nice": false, "zero": false}, "axis": null}}},
{"data": {"name": "vlines"}, "transform": [{"filter": "datum.p == 6 && datum.t == 'g'"}], "mark": {"type": "rule", "color": "#22dd22", "strokeWidth": 1.2}, "encoding": {"x": {"field": "x", "type": "quantitative", "scale": {"domain": [5.9, 7.5], "nice": false, "zero": false}, "axis": null}}},
{"data": {"name": "curves"}, "transform": [{"filter": "datum.p == 6"}], "mark": {"type": "line", "strokeWidth": 1, "clip": true},
"encoding": {
"x": {"field": "x", "type": "quantitative", "scale": {"domain": [5.9, 7.5], "nice": false, "zero": false}, "axis": {"orient": "bottom", "values": [6, 6.5, 7, 7.5], "tickSize": -8, "labelPadding": 12, "format": "~g", "title": "redshift"}},
"y": {"field": "y", "type": "quantitative", "scale": {"domain": [0, 1.1], "nice": false, "zero": false}, "axis": {"orient": "left", "values": [0, 0.2, 0.4, 0.6, 0.8, 1], "tickSize": -8, "labels": false, "title": null}},
"color": {"field": "s", "type": "nominal", "scale": {"domain": ["vzw", "cw", "nw", "jvzw"], "range": ["black", "blue", "red", "cyan"]}, "legend": null},
"strokeDash": {"field": "s", "type": "nominal", "scale": {"domain": ["vzw", "cw", "nw", "jvzw"], "range": [[1, 0], [1.5, 2], [6, 4], [12, 4]]}, "legend": null}
}},
{"data": {"name": "curves"}, "transform": [{"filter": "datum.p == 6"}], "mark": {"type": "point", "opacity": 0},
"encoding": {"x": {"field": "x", "type": "quantitative", "scale": {"domain": [5.9, 7.5], "nice": false, "zero": false}, "axis": {"orient": "bottom", "values": [6.1,6.2,6.3,6.4,6.6,6.7,6.8,6.9,7.1,7.2,7.3,7.4], "tickSize": -4, "labels": false, "title": null}},
"y": {"field": "y", "type": "quantitative", "scale": {"domain": [0, 1.1], "nice": false, "zero": false}, "axis": {"orient": "left", "values": [0.05,0.1,0.15,0.25,0.3,0.35,0.45,0.5,0.55,0.65,0.7,0.75,0.85,0.9,0.95,1.05], "tickSize": -4, "labels": false, "title": null}}}},
{"data": {"name": "curves"}, "transform": [{"filter": "datum.p == 6"}], "mark": {"type": "point", "opacity": 0},
"encoding": {"x": {"field": "x", "type": "quantitative", "scale": {"domain": [5.9, 7.5], "nice": false, "zero": false}, "axis": {"orient": "top", "values": [6, 6.5, 7, 7.5], "tickSize": -8, "labels": false, "title": null}},
"y": {"field": "y", "type": "quantitative", "scale": {"domain": [0, 1.1], "nice": false, "zero": false}, "axis": {"orient": "right", "values": [0, 0.2, 0.4, 0.6, 0.8, 1], "tickSize": -8, "labels": false, "title": null}}}},
{"data": {"name": "curves"}, "transform": [{"filter": "datum.p == 6"}], "mark": {"type": "point", "opacity": 0},
"encoding": {"x": {"field": "x", "type": "quantitative", "scale": {"domain": [5.9, 7.5], "nice": false, "zero": false}, "axis": {"orient": "top", "values": [6.1,6.2,6.3,6.4,6.6,6.7,6.8,6.9,7.1,7.2,7.3,7.4], "tickSize": -4, "labels": false, "title": null}},
"y": {"field": "y", "type": "quantitative", "scale": {"domain": [0, 1.1], "nice": false, "zero": false}, "axis": {"orient": "right", "values": [0.05,0.1,0.15,0.25,0.3,0.35,0.45,0.5,0.55,0.65,0.7,0.75,0.85,0.9,0.95,1.05], "tickSize": -4, "labels": false, "title": null}}}}
]
}
],
"config": {
"view": {"stroke": "black", "strokeWidth": 1.2},
"font": "Liberation Serif",
"axis": {"grid": false, "domain": false, "tickColor": "black", "tickWidth": 1, "labelFont": "Liberation Serif", "labelFontSize": 14, "labelColor": "black", "titleFont": "Liberation Serif", "titleFontSize": 14, "titleFontWeight": "normal", "titleColor": "black", "labelFlush": false, "labelOverlap": false, "labelBound": false, "titlePadding": 3}
}
}
